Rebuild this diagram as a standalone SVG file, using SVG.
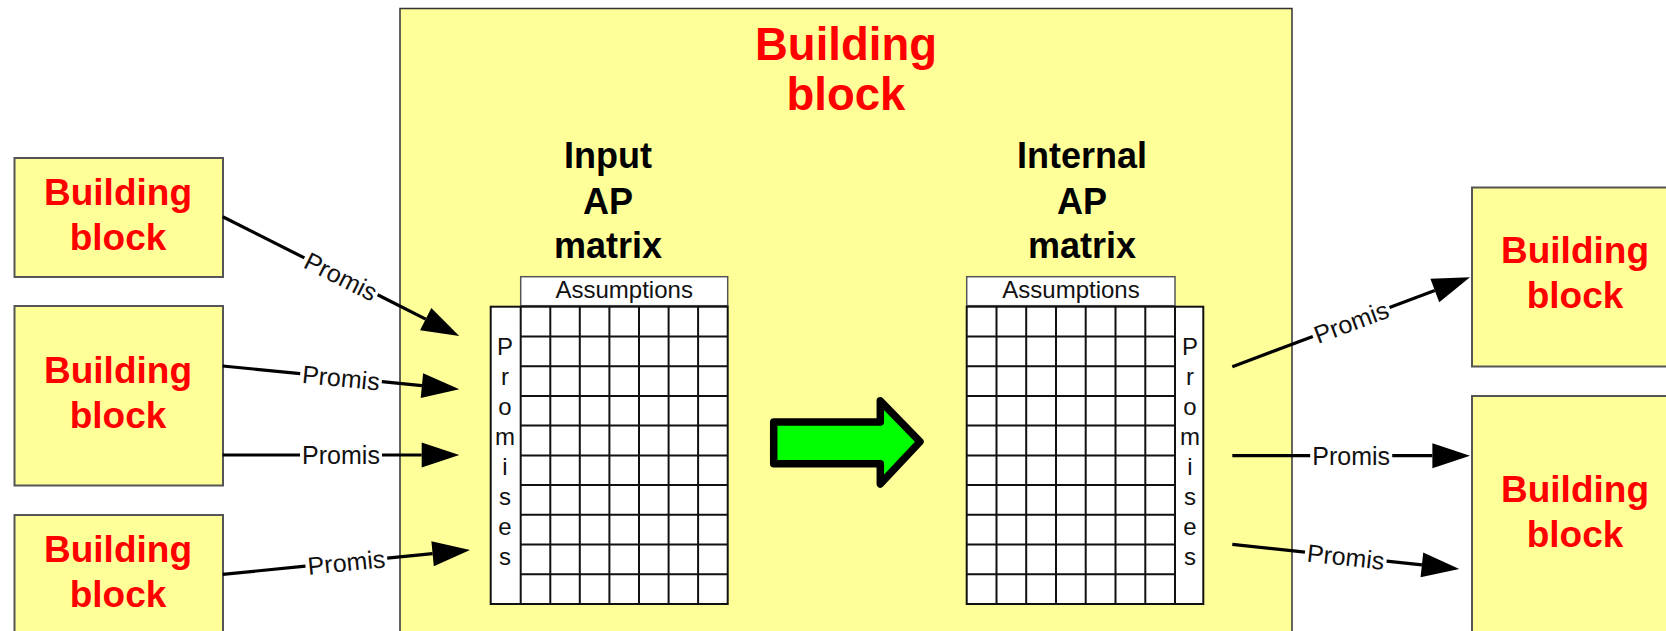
<svg xmlns="http://www.w3.org/2000/svg" width="1666" height="631" viewBox="0 0 1666 631">
<style>
.bb{fill:#FFFF99;stroke:#555;stroke-width:2}
.red{font-family:"Liberation Sans",Arial,sans-serif;font-weight:bold;fill:#FF0000;text-anchor:middle}
.hd{font-family:"Liberation Sans",Arial,sans-serif;font-weight:bold;font-size:36px;fill:#000;text-anchor:middle}
.lbl{font-family:"Liberation Sans",Arial,sans-serif;font-size:25px;fill:#111;text-anchor:middle}
.small{font-family:"Liberation Sans",Arial,sans-serif;font-size:24px;fill:#111;text-anchor:middle}
.conn{stroke:#000;stroke-width:3.2;fill:none}
.cell{fill:#fff;stroke:#111;stroke-width:2}
.grid{stroke:#111;stroke-width:2;fill:none}
.hdr{fill:#fff;stroke:#555;stroke-width:1.5}
</style>
<defs>
<marker id="ah" markerUnits="userSpaceOnUse" markerWidth="40" markerHeight="28" viewBox="0 -14 40 28" refX="0" refY="0" orient="auto" overflow="visible">
<path d="M0,-12.5 L37.6,0 L0,12.5 Z" fill="#000"/>
</marker>
</defs>
<rect x="0" y="0" width="1666" height="631" fill="#fff"/>

<g id="main-block">
<rect x="400" y="8.5" width="892" height="640" fill="#FFFF99" stroke="#333" stroke-width="1.5"/>
<text class="red" font-size="45.5" x="846" y="59.5">Building</text>
<text class="red" font-size="45.5" x="846" y="110">block</text>
</g>

<g id="input-matrix">
<text class="hd" x="608" y="168">Input</text>
<text class="hd" x="608" y="214">AP</text>
<text class="hd" x="608" y="258">matrix</text>
<rect class="hdr" x="520.7" y="276.7" width="207" height="29"/>
<text class="small" font-size="24.5" x="624.2" y="298">Assumptions</text>
<rect class="cell" x="490.7" y="306.7" width="237" height="297.3"/>
<path class="grid" d="M520.7,306.7V604M550.3,306.7V604M579.8,306.7V604M609.4,306.7V604M639,306.7V604M668.6,306.7V604M698.1,306.7V604M520.7,336.4H727.7M520.7,366.2H727.7M520.7,395.9H727.7M520.7,425.6H727.7M520.7,455.4H727.7M520.7,485.1H727.7M520.7,514.8H727.7M520.7,544.5H727.7M520.7,574.3H727.7"/>
<text class="small" x="505" y="355">P</text>
<text class="small" x="505" y="385">r</text>
<text class="small" x="505" y="414.5">o</text>
<text class="small" x="505" y="444.5">m</text>
<text class="small" x="505" y="475">i</text>
<text class="small" x="505" y="505">s</text>
<text class="small" x="505" y="535">e</text>
<text class="small" x="505" y="565">s</text>
</g>

<g id="transform-arrow">
<polygon points="773.7,422 880.3,422 880.3,400.8 920,441.7 880.3,484 880.3,463.7 773.7,463.7" fill="#00FF00" stroke="#000" stroke-width="7.5" stroke-linejoin="round"/>
</g>

<g id="internal-matrix">
<text class="hd" x="1082" y="168">Internal</text>
<text class="hd" x="1082" y="214">AP</text>
<text class="hd" x="1082" y="258">matrix</text>
<rect class="hdr" x="966.7" y="276.7" width="208.3" height="29"/>
<text class="small" font-size="24.5" x="1071" y="298">Assumptions</text>
<rect class="cell" x="966.7" y="306.7" width="236.6" height="297.3"/>
<path class="grid" d="M996.5,306.7V604M1026.2,306.7V604M1056,306.7V604M1085.7,306.7V604M1115.5,306.7V604M1145.3,306.7V604M1175,306.7V604M966.7,336.4H1175M966.7,366.2H1175M966.7,395.9H1175M966.7,425.6H1175M966.7,455.4H1175M966.7,485.1H1175M966.7,514.8H1175M966.7,544.5H1175M966.7,574.3H1175"/>
<text class="small" x="1190" y="355">P</text>
<text class="small" x="1190" y="385">r</text>
<text class="small" x="1190" y="414.5">o</text>
<text class="small" x="1190" y="444.5">m</text>
<text class="small" x="1190" y="475">i</text>
<text class="small" x="1190" y="505">s</text>
<text class="small" x="1190" y="535">e</text>
<text class="small" x="1190" y="565">s</text>
</g>

<g id="bb-left-1">
<rect class="bb" x="14.5" y="158" width="208.5" height="119"/>
<text class="red" font-size="37" x="118" y="205">Building</text>
<text class="red" font-size="37" x="118" y="250">block</text>
</g>
<g id="bb-left-2">
<rect class="bb" x="14.5" y="306" width="208.5" height="179.5"/>
<text class="red" font-size="37" x="118" y="383">Building</text>
<text class="red" font-size="37" x="118" y="428">block</text>
</g>
<g id="bb-left-3">
<rect class="bb" x="14.5" y="515" width="208.5" height="140"/>
<text class="red" font-size="37" x="118" y="562">Building</text>
<text class="red" font-size="37" x="118" y="607">block</text>
</g>
<g id="bb-right-1">
<rect class="bb" x="1472" y="187.5" width="220" height="179"/>
<text class="red" font-size="37" x="1575" y="263">Building</text>
<text class="red" font-size="37" x="1575" y="308">block</text>
</g>
<g id="bb-right-2">
<rect class="bb" x="1472" y="396" width="220" height="260"/>
<text class="red" font-size="37" x="1575" y="502">Building</text>
<text class="red" font-size="37" x="1575" y="547">block</text>
</g>

<g id="connectors">
<path class="conn" d="M222.7,216.7L304.4,257.9"/>
<path class="conn" d="M377.6,294.8L425.7,319.1" marker-end="url(#ah)"/>
<text class="lbl" transform="translate(341,276.35) rotate(26.76)" y="9">Promis</text>

<path class="conn" d="M222.7,366L300.2,373.6"/>
<path class="conn" d="M381.8,381.7L421.9,385.6" marker-end="url(#ah)"/>
<text class="lbl" transform="translate(341,377.65) rotate(5.62)" y="9">Promis</text>

<path class="conn" d="M222.7,455L300,455"/>
<path class="conn" d="M382,455L421.7,455" marker-end="url(#ah)"/>
<text class="lbl" transform="translate(341,455)" y="9">Promis</text>

<path class="conn" d="M222.7,574.3L305.5,566.2"/>
<path class="conn" d="M387.2,558.1L432.6,553.7" marker-end="url(#ah)"/>
<text class="lbl" transform="translate(346.35,562.15) rotate(-5.61)" y="9">Promis</text>

<path class="conn" d="M1232.3,366.7L1312.8,336.4"/>
<path class="conn" d="M1389.5,307.6L1434.8,290.5" marker-end="url(#ah)"/>
<text class="lbl" transform="translate(1351.15,322) rotate(-20.6)" y="9">Promis</text>

<path class="conn" d="M1232.3,455.7L1310.2,455.7"/>
<path class="conn" d="M1392.2,455.7L1432.4,455.7" marker-end="url(#ah)"/>
<text class="lbl" transform="translate(1351.15,455.7)" y="9">Promis</text>

<path class="conn" d="M1232.3,544.3L1305,552.2"/>
<path class="conn" d="M1386.6,561.1L1421.9,564.9" marker-end="url(#ah)"/>
<text class="lbl" transform="translate(1345.8,556.65) rotate(6.21)" y="9">Promis</text>
</g>
</svg>
